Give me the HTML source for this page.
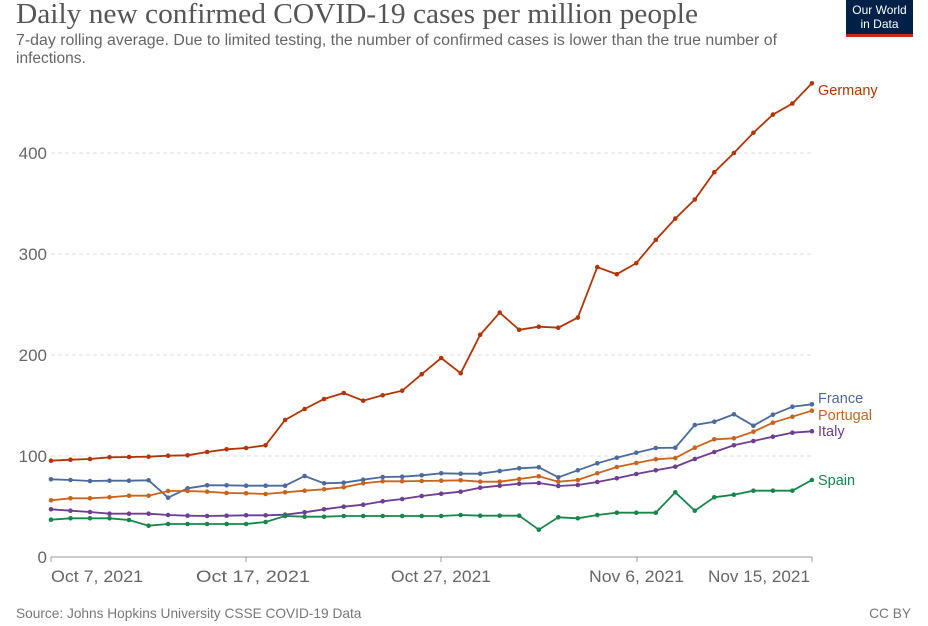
<!DOCTYPE html>
<html><head><meta charset="utf-8"><style>
body{margin:0;background:#fff;width:928px;height:621px;overflow:hidden;font-family:"Liberation Sans",sans-serif}
</style></head><body>
<svg id="s" width="928" height="621" xmlns="http://www.w3.org/2000/svg" font-family="Liberation Sans, sans-serif">
<text x="16" y="23" font-family="Liberation Serif, serif" font-size="29" fill="#555" textLength="682" lengthAdjust="spacingAndGlyphs">Daily new confirmed COVID-19 cases per million people</text>
<text x="16" y="45" font-size="15.5" fill="#666" textLength="761" lengthAdjust="spacingAndGlyphs">7-day rolling average. Due to limited testing, the number of confirmed cases is lower than the true number of</text>
<text x="16" y="63" font-size="15.5" fill="#666">infections.</text>
<rect x="846" y="0" width="67" height="35" fill="#002147"/>
<rect x="846" y="34" width="67" height="3" fill="#ce261e"/>
<text x="879.5" y="14" font-size="12" fill="#fff" text-anchor="middle">Our World</text>
<text x="879.5" y="28" font-size="12" fill="#fff" text-anchor="middle">in Data</text>
<g stroke="#ddd" stroke-dasharray="4,3">
<line x1="51" x2="812" y1="456" y2="456"/><line x1="51" x2="812" y1="355" y2="355"/>
<line x1="51" x2="812" y1="254" y2="254"/><line x1="51" x2="812" y1="153" y2="153"/>
</g>
<g font-size="17" fill="#666" text-anchor="end">
<text x="47" y="563">0</text><text x="47" y="462">100</text><text x="47" y="361">200</text><text x="47" y="260">300</text><text x="47" y="159">400</text>
</g>
<line x1="51" x2="812" y1="557" y2="557" stroke="#999"/>
<g stroke="#999"><line x1="51" x2="51" y1="557" y2="562"/><line x1="246" x2="246" y1="557" y2="562"/><line x1="441" x2="441" y1="557" y2="562"/><line x1="637" x2="637" y1="557" y2="562"/><line x1="812" x2="812" y1="557" y2="562"/></g>
<g font-size="17" fill="#666">
<text x="51" y="582" textLength="92" lengthAdjust="spacingAndGlyphs">Oct 7, 2021</text><text x="196" y="582" textLength="114" lengthAdjust="spacingAndGlyphs">Oct 17, 2021</text><text x="391" y="582" textLength="100" lengthAdjust="spacingAndGlyphs">Oct 27, 2021</text><text x="589" y="582" textLength="95" lengthAdjust="spacingAndGlyphs">Nov 6, 2021</text><text x="708" y="582" textLength="102" lengthAdjust="spacingAndGlyphs">Nov 15, 2021</text>
</g>
<text x="16" y="618" font-size="13.7" fill="#777">Source: Johns Hopkins University CSSE COVID-19 Data</text>
<text x="911" y="618" font-size="13.7" fill="#777" text-anchor="end">CC BY</text>
<g id="series"></g>
</svg>
<script>
var X=function(i){return 51+i*19.51;};
var z=function(a){return a.map(function(v){return 380+v/3;});};
var gv=[181,197,182,220,242,225,228,227,237,287,280,291,314,335,354,381,400,420,438,449,469].map(function(v){return 557-v*1.01;});
var S=[
["#b13507",z([242,239,237,232,231,230,227,226,216,208,204,196,120,87,57,39,62,46,32]).concat(gv),"Germany"],
["#4c6a9c",z([298,300,303,302,302,301,353,325,316,316,317,317,317,288,310,308,299,291,290,286,280,281,281,273,265,262,292,271,250,233,218,204,203,135,125,103,137,104,80,73]),"France"],
["#c9641e",z([361,355,355,352,347,347,333,333,335,339,340,342,337,332,328,322,310,304,304,303,302,301,305,305,297,289,305,300,280,261,249,238,234,203,178,175,155,128,110,92]),"Portugal"],
["#6d3e91",z([388,392,396,401,401,401,405,407,408,407,406,406,404,397,388,380,374,364,357,348,341,335,323,317,311,309,318,315,306,295,282,271,260,237,216,196,183,170,158,154]),"Italy"],
["#18864b",z([419,415,415,415,420,437,432,432,432,432,432,426,408,410,410,408,408,408,408,408,408,405,407,407,407,449,412,415,405,398,398,398,337,392,352,344,332,332,332,300]),"Spain"]];
var ly={Germany:95,France:403,Portugal:420,Italy:436,Spain:485};
var h="";
S.forEach(function(s){var p=s[1].map(function(y,i){return X(i).toFixed(1)+","+y.toFixed(1);});
h+='<polyline fill="none" stroke="'+s[0]+'" stroke-width="1.8" points="'+p.join(" ")+'"/>';
s[1].forEach(function(y,i){h+='<circle cx="'+X(i).toFixed(1)+'" cy="'+y.toFixed(1)+'" r="2.3" fill="'+s[0]+'"/>';});
h+='<text x="818" y="'+ly[s[2]]+'" font-size="14.5" fill="'+s[0]+'">'+s[2]+'</text>';});
document.getElementById("series").innerHTML=h;
</script>
</body></html>
